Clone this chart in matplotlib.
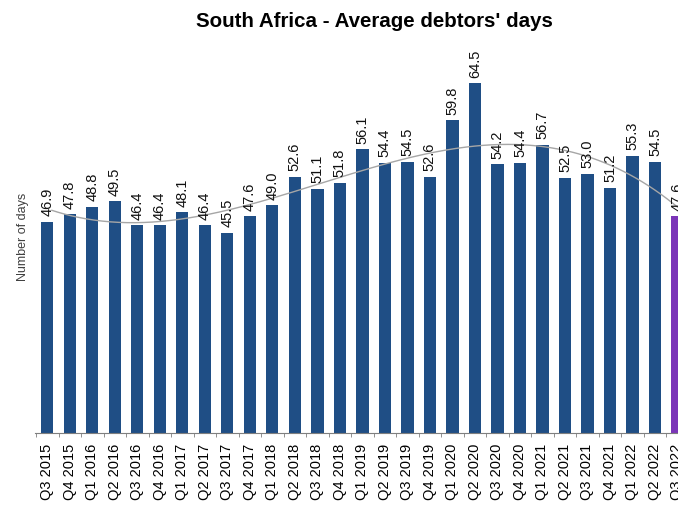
import numpy as np
import matplotlib
matplotlib.use("Agg")
import matplotlib.pyplot as plt

quarters = ['Q3 2015', 'Q4 2015', 'Q1 2016', 'Q2 2016', 'Q3 2016', 'Q4 2016',
            'Q1 2017', 'Q2 2017', 'Q3 2017', 'Q4 2017', 'Q1 2018', 'Q2 2018',
            'Q3 2018', 'Q4 2018', 'Q1 2019', 'Q2 2019', 'Q3 2019', 'Q4 2019',
            'Q1 2020', 'Q2 2020', 'Q3 2020', 'Q4 2020', 'Q1 2021', 'Q2 2021',
            'Q3 2021', 'Q4 2021', 'Q1 2022', 'Q2 2022', 'Q3 2022']
debtor_days = [46.9, 47.8, 48.8, 49.5, 46.4, 46.4, 48.1, 46.4, 45.5, 47.6,
               49.0, 52.6, 51.1, 51.8, 56.1, 54.4, 54.5, 52.6, 59.8, 64.5,
               54.2, 54.4, 56.7, 52.5, 53.0, 51.2, 55.3, 54.5, 47.6]

plt.rcParams['font.family'] = ['Liberation Sans', 'DejaVu Sans']

fig = plt.figure(figsize=(6.78, 5.11), dpi=100)
# axes runs past the right edge, so the latest quarter is cut off
ax = fig.add_axes([35 / 678, (511 - 433) / 511, 665 / 678, 393 / 511])

x = np.arange(len(quarters))
colors = ['#1f4e85'] * (len(quarters) - 1) + ['#7b35b8']
ax.bar(x, debtor_days, width=0.54, color=colors, bottom=0)

# polynomial trend line through the quarterly values
coef = np.polyfit(x, debtor_days, 3)
xs = np.linspace(0.2, len(quarters) - 1, 300)
ax.plot(xs, np.polyval(coef, xs), color='#a6a6a6', lw=1.0, zorder=3)

for i, v in enumerate(debtor_days):
    ax.annotate(f'{v:.1f}', (i, v), xytext=(0, 4), textcoords='offset points',
                rotation=90, ha='center', va='bottom', fontsize=10.5, color='#111111')

ax.set_ylim(20, 70)
ax.set_xlim(-0.55, 29.0)
ax.set_yticks([])
ax.set_xticks(x)
ax.set_xticklabels(quarters, rotation=90, fontsize=10.5)
ax.set_xticks(np.arange(-0.5, len(quarters), 1), minor=True)
ax.tick_params(axis='x', which='major', length=0, pad=8)
ax.tick_params(axis='x', which='minor', length=3, color='#7f7f7f')
for s in ['top', 'right', 'left']:
    ax.spines[s].set_visible(False)
ax.spines['bottom'].set_color('#7f7f7f')

ax.set_ylabel('Number of days', fontsize=9, color='#404040', labelpad=4)
fig.text(0.553, 0.958, "South Africa - Average debtors' days", ha='center', va='center',
         fontsize=14.8, fontweight='bold')

fig.savefig('out.png', dpi=100)
